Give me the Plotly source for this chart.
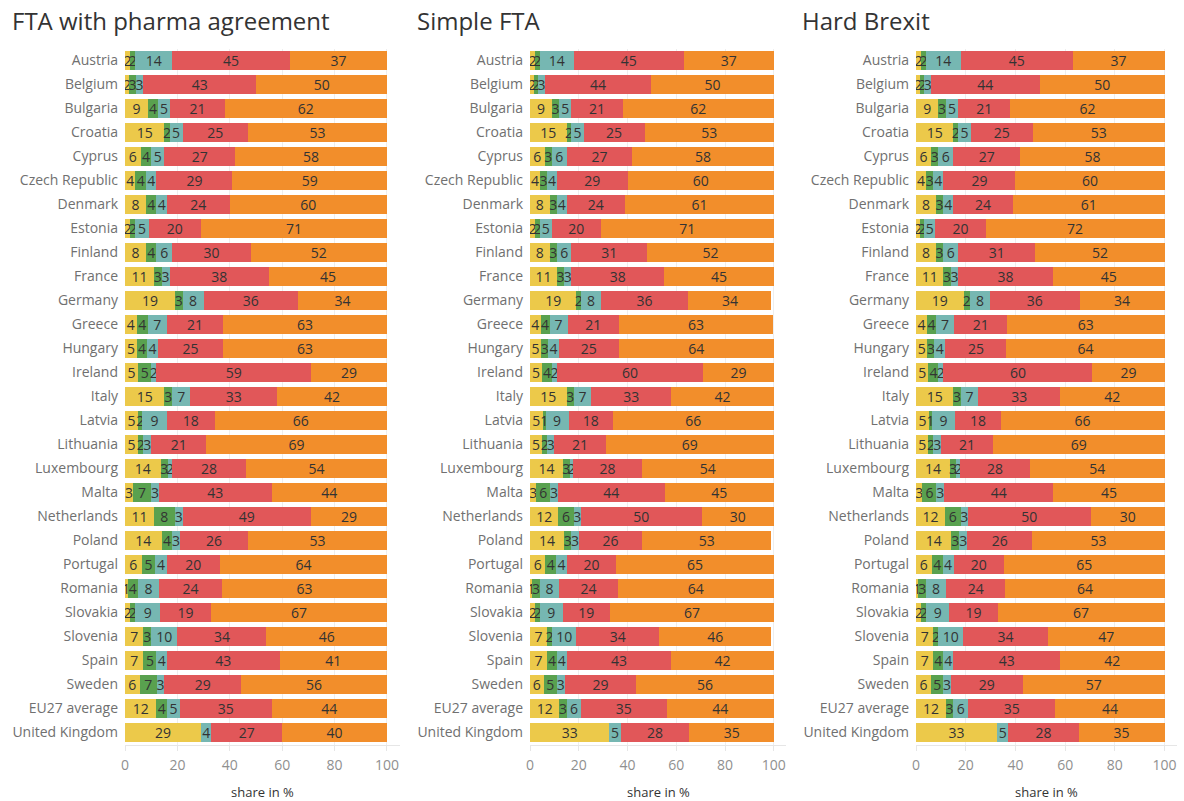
import plotly.graph_objects as go

countries = ["Austria", "Belgium", "Bulgaria", "Croatia", "Cyprus", "Czech Republic",
             "Denmark", "Estonia", "Finland", "France", "Germany", "Greece", "Hungary",
             "Ireland", "Italy", "Latvia", "Lithuania", "Luxembourg", "Malta",
             "Netherlands", "Poland", "Portugal", "Romania", "Slovakia", "Slovenia",
             "Spain", "Sweden", "EU27 average", "United Kingdom"]

scenario_titles = ["FTA with pharma agreement", "Simple FTA", "Hard Brexit"]
segment_names = ["Segment 1", "Segment 2", "Segment 3", "Segment 4", "Segment 5"]
segment_colors = ["#ECC94A", "#59A14F", "#76B7B2", "#E15759", "#F28E2B"]
x_ticks = [0, 20, 40, 60, 80, 100]

# FTA with pharma agreement
pharma_yellow = [2, 1.6, 8.8, 15, 6, 4, 8, 2, 8, 11, 19, 4.4, 4.6, 5, 15, 5.0, 5, 13.6, 3, 11, 14, 6.3, 1, 2, 7, 7, 5.6, 12, 29]
pharma_green = [2, 2.6, 3.8, 2, 4, 4, 4, 2, 4, 3, 3, 4.3, 3.7, 5, 3, 1.6, 2, 2.8, 7, 8, 4, 5.3, 4, 2, 3, 5, 6.6, 4, 0]
pharma_teal = [14, 2.6, 4.6, 5, 5, 4, 4, 5, 6, 3, 8, 7.3, 4.4, 2, 7, 9.3, 3, 1.6, 3, 3, 3, 4.3, 8, 9.4, 10, 4, 2.8, 5, 4]
pharma_red = [45, 43.4, 20.9, 25, 27, 29, 24, 20, 30, 38, 36, 21.4, 24.7, 59, 33, 18.4, 21, 28.2, 43, 49, 26, 20.4, 24, 19.4, 34, 43, 29.3, 35, 27]
pharma_orange = [37, 49.8, 61.9, 53, 58, 59, 60, 71, 52, 45, 34, 62.6, 62.6, 29, 42, 65.7, 69, 53.8, 44, 29, 53, 63.7, 63, 67.2, 46, 41, 55.7, 44, 40]

# Simple FTA
simple_yellow = [2, 1.6, 9, 15, 6, 4, 8, 2, 8, 11, 19, 4.4, 4.6, 5, 15, 5.2, 5, 13.6, 2.6, 11.6, 14, 6.3, 1, 2.2, 7, 7, 5.6, 12, 32.6]
simple_green = [2, 1.8, 3, 2, 3, 3, 3, 2, 3, 3, 2, 3.6, 2.8, 4, 3, 1.2, 2, 2.6, 5.6, 6.4, 3, 4.4, 3, 1.8, 2, 4, 5.4, 3, 0]
simple_teal = [14, 2.6, 5, 5, 6, 4, 4, 5, 6, 3, 8, 7.4, 4.4, 2, 7, 9.4, 3, 1.6, 3.2, 2.8, 3, 4.4, 8, 9.4, 10, 4, 3.3, 6, 4.6]
simple_red = [45, 43.8, 21, 25, 27, 29, 24, 20, 31, 38, 36, 21.0, 24.6, 60, 33, 18.2, 21, 28.0, 43.8, 49.6, 26, 20.3, 24, 19.4, 34, 43, 29.3, 35, 28.2]
simple_orange = [37, 50.2, 62, 53, 58, 60, 61, 71, 52, 45, 34, 63.4, 63.6, 29, 42, 66.0, 69, 54.2, 44.8, 29.6, 53, 64.6, 64, 67.2, 46, 42, 56.4, 44, 34.6]

# Hard Brexit
hard_yellow = [2, 1.6, 9, 15, 6, 4, 8, 1.6, 8, 11, 19.2, 4.4, 4.6, 5, 15, 5.2, 5, 13.6, 2.6, 11.6, 14.2, 6.3, 1, 2.2, 7, 7, 6, 12, 32.6]
hard_green = [2, 1.8, 3, 2, 3, 3, 3, 1.6, 3, 3, 2.4, 3.6, 2.8, 4, 3, 1.2, 2, 2.6, 5.6, 6.4, 3.2, 4.4, 3, 1.8, 2, 4, 5, 3, 0]
hard_teal = [14, 2.6, 5, 5, 6, 4, 4, 4.6, 6, 3, 8.2, 7.4, 4.4, 2, 7, 9.4, 3, 1.6, 3.2, 2.8, 3.2, 4.4, 8, 9.4, 10, 4, 3, 6, 4.6]
hard_red = [45, 43.8, 21, 25, 27, 29, 24, 20.2, 31, 38, 36.0, 21.2, 24.6, 60, 33, 18.2, 21, 28.0, 43.8, 49.6, 26.2, 20.3, 24, 19.4, 34, 43, 29, 35, 28.2]
hard_orange = [37, 50.2, 62, 53, 58, 60, 61, 72.0, 52, 45, 34.2, 63.4, 63.6, 29, 42, 66.0, 69, 54.2, 44.8, 29.6, 53.2, 64.6, 64, 67.2, 47, 42, 57, 44, 34.6]

scenarios = [
    [pharma_yellow, pharma_green, pharma_teal, pharma_red, pharma_orange],
    [simple_yellow, simple_green, simple_teal, simple_red, simple_orange],
    [hard_yellow, hard_green, hard_teal, hard_red, hard_orange],
]

W, H = 1184, 801
FONT = "Open Sans"
# pixel layout of the three panels (left px, right px)
panel_px = [(125, 400), (530, 786), (916, 1177)]
title_px = [10, 415, 800]
y_dom = [1 - 744.5 / H, 1 - 48.5 / H]

fig = go.Figure()
for p, series in enumerate(scenarios):
    suffix = "" if p == 0 else str(p + 1)
    for k, vals in enumerate(series):
        labels = [f"{v:.0f}" if v >= 0.5 else "" for v in vals]
        fig.add_trace(go.Bar(
            y=countries, x=vals, orientation="h",
            name=segment_names[k], marker=dict(color=segment_colors[k], line=dict(width=0)),
            text=labels, textposition="inside", insidetextanchor="middle",
            textangle=0, constraintext="none",
            textfont=dict(family=FONT, size=14, color="#333333"),
            xaxis="x" + suffix, yaxis="y" + suffix, showlegend=False,
            hovertemplate="%{y}: %{x}<extra></extra>",
        ))

layout = dict(
    width=W, height=H, barmode="stack", bargap=0.2,
    margin=dict(l=0, r=0, t=0, b=0),
    plot_bgcolor="white", paper_bgcolor="white",
    font=dict(family=FONT, color="#333333"),
    uniformtext=dict(minsize=14, mode="show"),
    annotations=[],
)
for p in range(3):
    suffix = "" if p == 0 else str(p + 1)
    l, r = panel_px[p]
    layout["xaxis" + suffix] = dict(
        domain=[l / W, r / W], anchor="y" + suffix, range=[0, 105],
        tickvals=x_ticks, showgrid=True, gridcolor="#eeeeee", gridwidth=1,
        zeroline=False, showline=True, linecolor="#e6e6e6", linewidth=1,
        ticks="outside", ticklen=5, tickcolor="#e6e6e6",
        tickfont=dict(family=FONT, size=14, color="#8f8f8f"),
        ticklabelstandoff=3, automargin=False, fixedrange=True,
    )
    layout["yaxis" + suffix] = dict(
        domain=y_dom, anchor="x" + suffix, type="category",
        categoryorder="array", categoryarray=countries,
        range=[len(countries) - 0.5, -0.5],
        showgrid=False, zeroline=False, showline=False, ticks="",
        tickfont=dict(family=FONT, size=14, color="#707070"),
        ticklabelstandoff=6, automargin=False, fixedrange=True,
    )
    layout["annotations"].append(dict(
        text=scenario_titles[p], xref="paper", yref="paper",
        x=title_px[p] / W, y=1 - 21 / H, xanchor="left", yanchor="middle",
        showarrow=False, font=dict(family=FONT, size=24, color="#333333"),
    ))
    layout["annotations"].append(dict(
        text="share in %", xref="paper", yref="paper",
        x=(l + r) / 2 / W, y=1 - 792 / H, xanchor="center", yanchor="middle",
        showarrow=False, font=dict(family=FONT, size=13, color="#333333"),
    ))

fig.update_layout(**layout)
fig.write_html(
    "out.html",
    config={"displayModeBar": False},
    post_script="document.body.style.margin='0px';document.body.style.overflow='hidden';",
)
